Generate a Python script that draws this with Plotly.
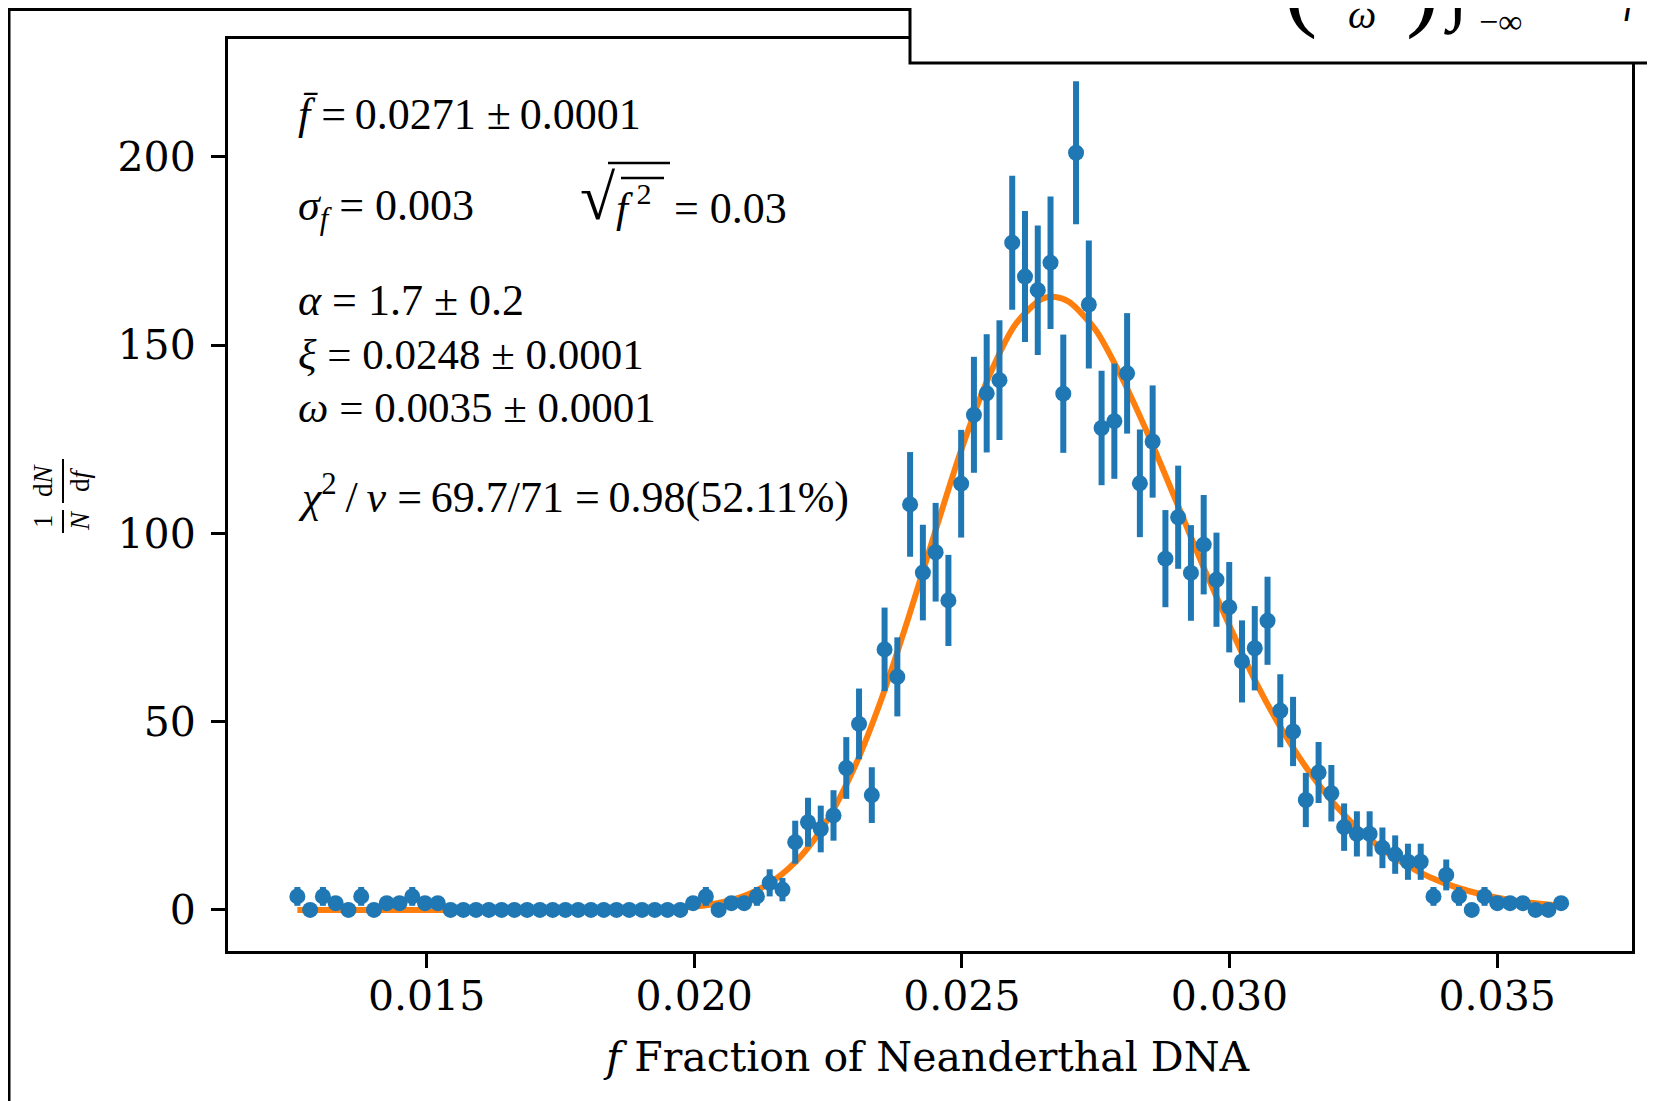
import numpy as np
import plotly.graph_objects as go

# ---------------- data ----------------
BIN_FIRST = 0.012586      # first histogram bin centre
BIN_LAST = 0.036196       # last histogram bin centre
N_BINS = 100

density = [
    3.6, 0, 3.6, 1.8, 0, 3.6, 0, 1.8, 1.8, 3.6, 1.8, 1.8,
    0, 0, 0, 0, 0, 0, 0, 0, 0, 0, 0, 0, 0, 0, 0, 0, 0, 0, 0,
    1.8, 3.6, 0, 1.8, 1.8, 3.6, 7.2, 5.4, 18.0, 23.3,
    21.5, 25.1, 37.7, 49.4, 30.5, 69.2, 61.9, 107.7, 89.6, 95.0,
    82.2, 113.2, 131.5, 137.2, 140.7, 177.2, 168.2, 164.6, 171.9, 137.1,
    201.1, 160.8, 128.0, 129.8, 142.5, 113.3, 124.4, 93.3, 104.3, 89.5,
    97.0, 87.7, 80.4, 66.0, 69.5, 76.8, 52.9, 47.4, 29.2, 36.5,
    31.0, 22.0, 20.2, 20.2, 16.5, 14.7, 12.8, 12.8, 3.6, 9.3,
    3.6, 0, 3.6, 1.8, 1.8, 1.8, 0, 0, 1.8,
]
density_err = [
    2.5, 0, 2.5, 1.8, 0, 2.5, 0, 1.8, 1.8, 2.5, 1.8, 1.8,
    0, 0, 0, 0, 0, 0, 0, 0, 0, 0, 0, 0, 0, 0, 0, 0, 0, 0, 0,
    1.8, 2.5, 0, 1.8, 1.8, 2.5, 3.6, 3.1, 5.7, 6.5,
    6.2, 6.7, 8.2, 9.4, 7.4, 11.1, 10.5, 13.9, 12.7, 13.1,
    12.1, 14.3, 15.4, 15.7, 15.9, 17.8, 17.4, 17.2, 17.6, 15.7,
    19.0, 17.0, 15.2, 15.3, 16.0, 14.3, 14.9, 12.9, 13.7, 12.7,
    13.2, 12.5, 12.0, 10.9, 11.2, 11.7, 9.7, 9.2, 7.2, 8.1,
    7.5, 6.3, 6.0, 6.0, 5.4, 5.1, 4.8, 4.8, 2.5, 4.1,
    2.5, 0, 2.5, 1.8, 1.8, 1.8, 0, 0, 1.8,
]

fit_f = [0.012586, 0.0140, 0.0155, 0.0170, 0.0180, 0.0185, 0.0190, 0.0195,
         0.0200, 0.0205, 0.0210, 0.0215, 0.0220, 0.0225, 0.0230, 0.0235,
         0.0240, 0.0245, 0.0250, 0.0255, 0.0260, 0.0265, 0.02675, 0.0270,
         0.0275, 0.0280, 0.0285, 0.0290, 0.0295, 0.0300, 0.0305, 0.0310,
         0.0315, 0.0320, 0.0325, 0.0330, 0.0335, 0.0340, 0.0345, 0.0350,
         0.0355, 0.0360, 0.036196]
fit_density = [0, 0, 0, 0, 0.02, 0.05, 0.14, 0.36,
               0.88, 1.97, 4.1, 8.0, 14.4, 24.2, 38.1, 56.1,
               77.5, 100.4, 122.6, 141.5, 155.5, 162.3, 162.8, 161.5,
               154.0, 141.0, 125.6, 108.7, 91.5, 75.5, 60.3, 47.4,
               36.5, 27.5, 20.3, 14.7, 10.4, 7.2, 4.9, 3.26,
               2.13, 1.36, 1.13]

x_ticks = [0.015, 0.020, 0.025, 0.030, 0.035]
x_tick_labels = ["0.015", "0.020", "0.025", "0.030", "0.035"]
y_ticks = [0, 50, 100, 150, 200]
y_tick_labels = ["0", "50", "100", "150", "200"]

f_bins = np.linspace(BIN_FIRST, BIN_LAST, N_BINS)

# ---------------- layout geometry ----------------
# page = browser window pixels; the figure div sits 8 px in (body margin)
OFF = 8
W, H = 1655 - OFF, 1101 - OFF          # figure size so that it fits the window
L, R, T, B = 228, 1632, 39, 951        # plot area in page pixels


def px(x):
    return (x - L) / (R - L)


def py(y):
    return (B - y) / (B - T)


BLUE = "#1f77b4"
ORANGE = "#ff7f0e"
SERIF = "Liberation Serif, DejaVu Serif, serif"
TICKF = "DejaVu Serif, serif"

fig = go.Figure()
fig.add_trace(go.Scatter(
    x=fit_f, y=fit_density, mode="lines",
    line=dict(color=ORANGE, width=6, shape="spline", smoothing=0.8),
    hoverinfo="skip", showlegend=False))
fig.add_trace(go.Scatter(
    x=f_bins, y=density, mode="markers",
    marker=dict(size=16, color=BLUE),
    error_y=dict(type="data", array=density_err, visible=True,
                 thickness=6, width=0, color=BLUE),
    showlegend=False))

annotations = []


def ann(text, x, y, size=43, family=SERIF, xanchor="left", yanchor="middle",
        angle=0):
    annotations.append(dict(
        text=text, x=px(x), y=py(y), xref="paper", yref="paper",
        xanchor=xanchor, yanchor=yanchor, showarrow=False, textangle=angle,
        font=dict(family=family, size=size, color="black")))


SP = "\u2009"  # thin space
# statistics text block
ann(f"<i>f\u0304</i> ={SP}0.0271 ±{SP}0.0001", 296, 114, size=44)
ann("<i>σ</i><sub><i>f</i></sub> = 0.003", 296, 208, size=44)
ann("√", 578, 198, size=64)
ann("<i>f</i>\u2009<sup>2</sup>", 614, 204)
ann("= 0.03", 672, 208, size=44)
ann("<i>α</i> = 1.7 ± 0.2", 296, 300, size=44)
ann("<i>ξ</i> = 0.0248 ± 0.0001", 296, 354)
ann("<i>ω</i> = 0.0035 ± 0.0001", 296, 407)
ann(f"<i>χ</i><sup>2</sup>{SP}/{SP}<i>ν</i> ={SP}69.7/71 ={SP}0.98(52.11%)",
    296, 494, size=44)

# axis titles
ann("<i>f</i> Fraction of Neanderthal DNA", (L + R) / 2 - 3, 1057,
    size=41, family=TICKF, xanchor="center")
ann("1", 43, 521, size=27, xanchor="center", angle=-90)
ann("d<i>N</i>", 43, 480, size=27, xanchor="center", angle=-90)
ann("<i>N</i>", 80, 521, size=27, xanchor="center", angle=-90)
ann("d<i>f</i>", 80, 480, size=27, xanchor="center", angle=-90)

# formula box fragments (clipped at the top of the window)
ann("<i>f</i><sub>S</sub>(<i>f</i>; <i>α</i>, <i>ξ</i>, <i>ω</i>) = "
    "<i>f</i><sub>S</sub>", 935, 14, size=40, yanchor="bottom")
ann("(", 1300, -16, size=100, xanchor="center")
ann("<i>ω</i>", 1362, 15, size=40, xanchor="center")
ann(")", 1422, -16, size=100, xanchor="center")
ann("∫", 1458, -8, size=74, xanchor="center")
ann("−∞", 1500, 21, size=34, xanchor="center")
ann("<i>f</i>", 1632, -2, size=40, xanchor="center")

shapes = [
    # outer frame lines of the screenshot
    dict(type="line", xref="paper", yref="paper", x0=px(9), x1=px(9),
         y0=py(8), y1=py(1200), line=dict(color="black", width=3)),
    dict(type="line", xref="paper", yref="paper", x0=px(8), x1=px(912),
         y0=py(9.5), y1=py(9.5), line=dict(color="black", width=3)),
    dict(type="line", xref="paper", yref="paper", x0=px(1653), x1=px(1653),
         y0=py(63), y1=py(1200), line=dict(color="#808080", width=2)),
    # formula box at the top right
    dict(type="rect", xref="paper", yref="paper", x0=px(910), x1=px(1700),
         y0=py(63), y1=py(-40), fillcolor="white",
         line=dict(color="black", width=3), layer="above"),
    # radical vinculum and overline
    dict(type="line", xref="paper", yref="paper", x0=px(608), x1=px(670),
         y0=py(163), y1=py(163), line=dict(color="black", width=2.5)),
    dict(type="line", xref="paper", yref="paper", x0=px(621), x1=px(664),
         y0=py(178), y1=py(178), line=dict(color="black", width=2.5)),
    # fraction bars of the y label
    dict(type="line", xref="paper", yref="paper", x0=px(63), x1=px(63),
         y0=py(510), y1=py(533), line=dict(color="black", width=2)),
    dict(type="line", xref="paper", yref="paper", x0=px(63), x1=px(63),
         y0=py(459), y1=py(503), line=dict(color="black", width=2)),
]

axis_common = dict(
    showline=True, linewidth=3, linecolor="black", mirror=True,
    ticks="outside", ticklen=14, tickwidth=3, tickcolor="black",
    showgrid=False, zeroline=False,
    tickfont=dict(family=TICKF, size=41, color="black"),
)

fig.update_layout(
    width=W, height=H, autosize=False,
    margin=dict(l=L - OFF, r=W - (R - OFF), t=T - OFF, b=H - (B - OFF), pad=0),
    paper_bgcolor="white", plot_bgcolor="white",
    xaxis=dict(range=[0.01129, 0.03752], tickvals=x_ticks,
               ticktext=x_tick_labels, ticklabelstandoff=-7, **axis_common),
    yaxis=dict(range=[-10.9, 231.3], tickvals=y_ticks,
               ticktext=y_tick_labels, ticklabelstandoff=7, **axis_common),
    annotations=annotations,
    shapes=shapes,
    showlegend=False,
)

fig.write_html("out.html")
